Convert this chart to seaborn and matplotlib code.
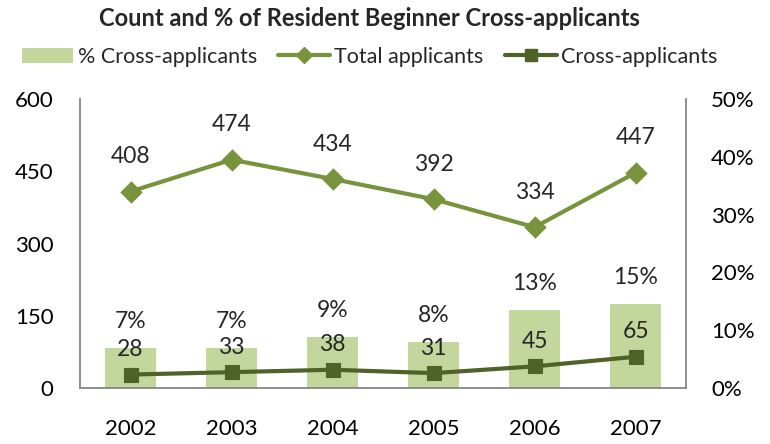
import matplotlib
matplotlib.use("Agg")
import matplotlib.pyplot as plt
from matplotlib.lines import Line2D
from matplotlib.patches import Patch
from matplotlib.ticker import PercentFormatter
import seaborn as sns

# --- chart data ---
YEARS = ["2002", "2003", "2004", "2005", "2006", "2007"]
TOTAL_APPLICANTS = [408, 474, 434, 392, 334, 447]
CROSS_APPLICANTS = [28, 33, 38, 31, 45, 65]
PCT_CROSS = [0.069, 0.070, 0.088, 0.079, 0.135, 0.145]
PCT_LABELS = ["7%", "7%", "9%", "8%", "13%", "15%"]

BAR_COLOR = "#C3D69B"
TOTAL_COLOR = "#77933C"
CROSS_COLOR = "#4F6228"
AXIS_COLOR = "#868686"

sns.set_theme(style="white")
plt.rcParams["font.family"] = ["Lato", "DejaVu Sans"]

fig = plt.figure(figsize=(7.7, 4.44), dpi=100)
ax = fig.add_axes([0.104, 0.126, 0.787, 0.651])
ax2 = ax.twinx()

# bars go on the percent axis, drawn behind the count lines
ax.set_zorder(2)
ax.patch.set_visible(False)
ax2.set_zorder(1)

sns.barplot(x=YEARS, y=PCT_CROSS, ax=ax2, color=BAR_COLOR, width=0.5,
            saturation=1, edgecolor="none")
sns.pointplot(x=YEARS, y=TOTAL_APPLICANTS, ax=ax, color=TOTAL_COLOR,
              marker="D", markersize=9, linewidth=3)
sns.pointplot(x=YEARS, y=CROSS_APPLICANTS, ax=ax, color=CROSS_COLOR,
              marker="s", markersize=9, linewidth=3)

ax.set_ylim(0, 600)
ax.set_yticks([0, 150, 300, 450, 600])
ax2.set_ylim(0, 0.5)
ax2.set_yticks([0, 0.1, 0.2, 0.3, 0.4, 0.5])
ax2.yaxis.set_major_formatter(PercentFormatter(1.0, decimals=0))
ax.set_xlim(-0.5, 5.5)

for a in (ax, ax2):
    a.set_xlabel("")
    a.set_ylabel("")
    a.tick_params(axis="both", length=0, labelsize=16, colors="black")
    for side in a.spines:
        a.spines[side].set_visible(False)
ax.tick_params(axis="x", pad=22)
ax.tick_params(axis="y", pad=19)
ax2.tick_params(axis="y", pad=18)
for side in ("left", "bottom", "right"):
    ax.spines[side].set_visible(True)
    ax.spines[side].set_color(AXIS_COLOR)
    ax.spines[side].set_linewidth(1.3)
ax.grid(False)
ax2.grid(False)

# data labels
for i, (tot, cr, pl, p) in enumerate(zip(TOTAL_APPLICANTS, CROSS_APPLICANTS, PCT_LABELS, PCT_CROSS)):
    ax.annotate(str(tot), (i, tot), xytext=(0, 25), textcoords="offset points",
                ha="center", va="center", fontsize=16.5)
    ax.annotate(str(cr), (i, cr), xytext=(0, 18), textcoords="offset points",
                ha="center", va="center", fontsize=16.5)
    ax2.annotate(pl, (i, p), xytext=(0, 19), textcoords="offset points",
                 ha="center", va="center", fontsize=16.5)

fig.suptitle("Count and % of Resident Beginner Cross-applicants", x=0.48, y=0.985,
             fontsize=17, fontweight="bold")

handles = [
    Patch(facecolor=BAR_COLOR, edgecolor="none", label="% Cross-applicants"),
    Line2D([], [], color=TOTAL_COLOR, marker="D", markersize=8, linewidth=3, label="Total applicants"),
    Line2D([], [], color=CROSS_COLOR, marker="s", markersize=8, linewidth=3, label="Cross-applicants"),
]
fig.legend(handles=handles, loc="center", bbox_to_anchor=(0.48, 0.872), ncol=3,
           frameon=False, fontsize=15.5, handlelength=2.4, columnspacing=1.0,
           handletextpad=0.2)

fig.savefig("out.png", dpi=100)
plt.close(fig)
